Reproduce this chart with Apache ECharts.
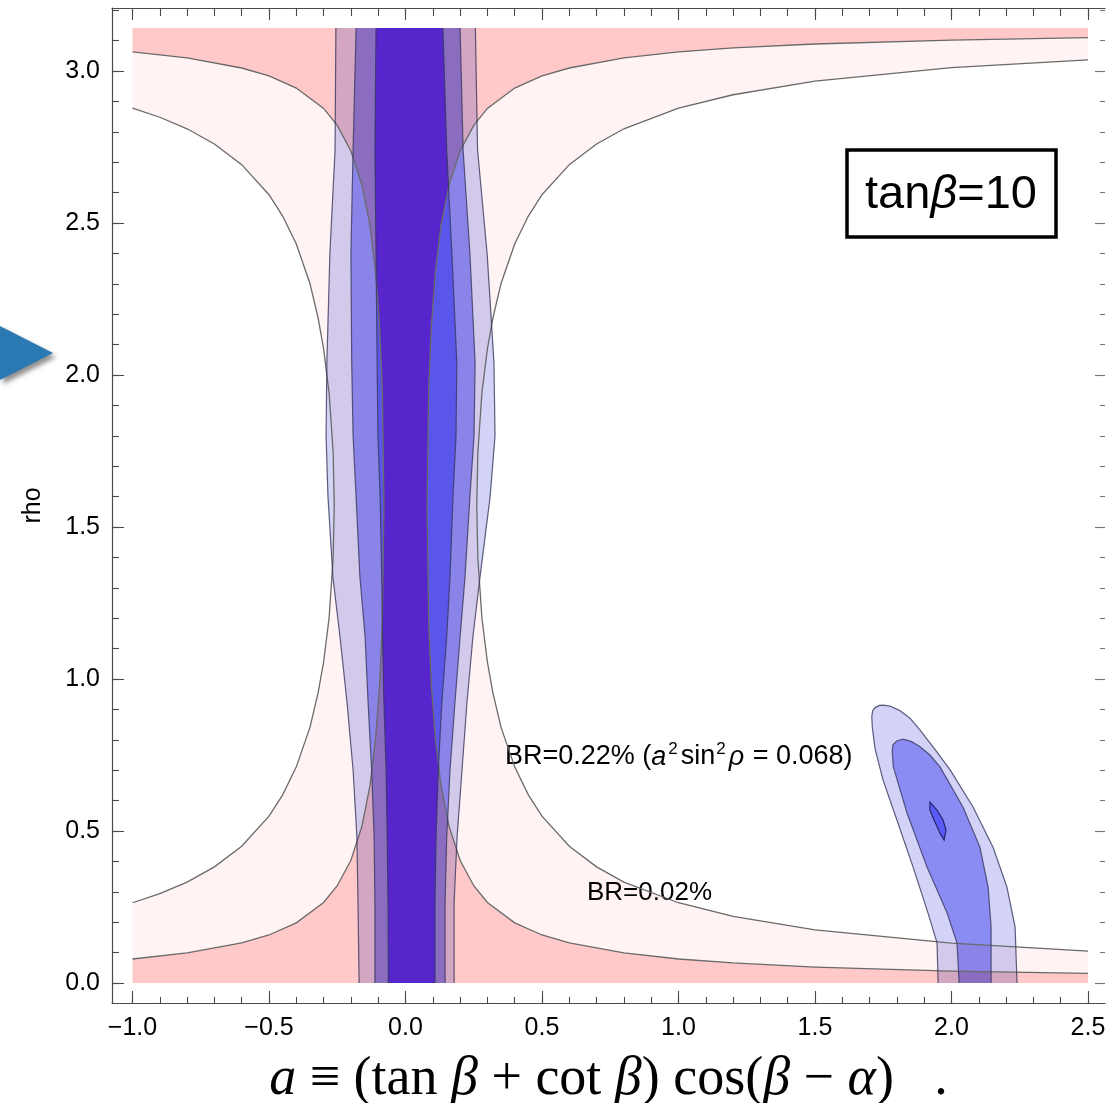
<!DOCTYPE html>
<html><head><meta charset="utf-8">
<script src="https://cdn.jsdelivr.net/npm/echarts@6/dist/echarts.min.js"></script>
<style>html,body{margin:0;padding:0;background:#fff}#c{width:1115px;height:1103px}</style>
</head><body><div id="c"></div>
<script>
// ---------- tick values ----------
const X_MAJOR = [-1.0,-0.5,0.0,0.5,1.0,1.5,2.0,2.5];
const X_MINOR = [-1.0,-0.9,-0.8,-0.7,-0.6,-0.5,-0.4,-0.3,-0.2,-0.1,0.0,0.1,0.2,0.3,0.4,0.5,0.6,0.7,0.8,0.9,1.0,1.1,1.2,1.3,1.4,1.5,1.6,1.7,1.8,1.9,2.0,2.1,2.2,2.3,2.4,2.5];
const Y_MAJOR = [0.0,0.5,1.0,1.5,2.0,2.5,3.0];
const Y_MINOR = [0.0,0.1,0.2,0.3,0.4,0.5,0.6,0.7,0.8,0.9,1.0,1.1,1.2,1.3,1.4,1.5,1.6,1.7,1.8,1.9,2.0,2.1,2.2,2.3,2.4,2.5,2.6,2.7,2.8,2.9,3.0,3.1,3.2];

// ---------- plotted domain ----------
const A_MIN = -1.0, A_MAX = 2.5, RHO_MAX = 3.1416;

// ---------- BR contours [a, rho] ----------
// BR = 0.22%  (a^2 sin^2 rho = 0.068)
const curveA_left = [[-1.0,0.264],[-0.9,0.294],[-0.8,0.332],[-0.7,0.382],[-0.6,0.450],[-0.5,0.549],[-0.45,0.619],[-0.4,0.711],[-0.35,0.841],[-0.32,0.955],[-0.3,1.056],[-0.28,1.200],[-0.265,1.397],[-0.261,1.571],[-0.265,1.745],[-0.28,1.942],[-0.3,2.086],[-0.32,2.187],[-0.35,2.301],[-0.4,2.431],[-0.45,2.523],[-0.5,2.593],[-0.6,2.692],[-0.7,2.760],[-0.8,2.810],[-0.9,2.848],[-1.0,2.878]];
const curveA_right = [[2.5,0.105],[2.0,0.131],[1.5,0.175],[1.2,0.219],[1.0,0.264],[0.8,0.332],[0.7,0.382],[0.6,0.450],[0.5,0.549],[0.45,0.619],[0.4,0.711],[0.35,0.841],[0.32,0.955],[0.3,1.056],[0.28,1.200],[0.265,1.397],[0.261,1.571],[0.265,1.745],[0.28,1.942],[0.3,2.086],[0.32,2.187],[0.35,2.301],[0.4,2.431],[0.45,2.523],[0.5,2.593],[0.6,2.692],[0.7,2.760],[0.8,2.810],[1.0,2.878],[1.2,2.922],[1.5,2.967],[2.0,3.011],[2.5,3.037]];
// BR = 0.02%
const curveB_left = [[-1.0,0.079],[-0.8,0.099],[-0.6,0.132],[-0.5,0.158],[-0.4,0.198],[-0.3,0.265],[-0.25,0.320],[-0.2,0.404],[-0.16,0.514],[-0.13,0.650],[-0.11,0.798],[-0.095,0.977],[-0.085,1.183],[-0.079,1.571],[-0.085,1.959],[-0.095,2.165],[-0.11,2.344],[-0.13,2.492],[-0.16,2.627],[-0.2,2.737],[-0.25,2.821],[-0.3,2.877],[-0.4,2.944],[-0.5,2.984],[-0.6,3.010],[-0.8,3.043],[-1.0,3.063]];
const curveB_right = [[2.5,0.0315],[2.0,0.039],[1.5,0.0525],[1.2,0.066],[1.0,0.079],[0.8,0.099],[0.6,0.132],[0.5,0.158],[0.4,0.198],[0.3,0.265],[0.25,0.320],[0.2,0.404],[0.16,0.514],[0.13,0.650],[0.11,0.798],[0.095,0.977],[0.085,1.183],[0.079,1.571],[0.085,1.959],[0.095,2.165],[0.11,2.344],[0.13,2.492],[0.16,2.627],[0.2,2.737],[0.25,2.821],[0.3,2.877],[0.4,2.944],[0.5,2.984],[0.6,3.010],[0.8,3.043],[1.0,3.063],[1.2,3.076],[1.5,3.089],[2.0,3.102],[2.5,3.110]];

// ---------- central allowed band (three levels), edges at given rho ----------
const bandRho    = [3.1416, 2.74, 2.40, 2.04, 1.80, 1.60, 1.336, 1.139, 0.921, 0.70, 0.481, 0.263, 0.0];
const band1Left  = [-0.255,-0.258,-0.277,-0.288,-0.291,-0.284,-0.266,-0.240,-0.214,-0.192,-0.178,-0.174,-0.170];
const band1Right = [0.256, 0.264, 0.299, 0.324, 0.328, 0.310, 0.273, 0.247, 0.225, 0.207, 0.189, 0.178, 0.178];
const band2Left  = [-0.181,-0.192,-0.200,-0.197,-0.192,-0.181,-0.167,-0.148,-0.137,-0.124,-0.115,-0.112,-0.112];
const band2Right = [0.200, 0.211, 0.236, 0.255, 0.251, 0.236, 0.218, 0.200, 0.181, 0.163, 0.151, 0.145, 0.145];
const band3Left  = [-0.108,-0.112,-0.108,-0.104,-0.101,-0.093,-0.087,-0.084,-0.079,-0.071,-0.067,-0.064,-0.063];
const band3Right = [0.137, 0.151, 0.170, 0.188, 0.185, 0.174, 0.163, 0.151, 0.133, 0.120, 0.112, 0.108, 0.108];

// ---------- right island (three levels) ----------
const blob1 = [[1.951,0],[1.947,0.132],[1.914,0.230],[1.859,0.382],[1.800,0.536],[1.749,0.668],[1.720,0.770],[1.710,0.840],[1.708,0.876],[1.711,0.895],[1.720,0.906],[1.736,0.913],[1.750,0.914],[1.775,0.911],[1.811,0.896],[1.848,0.871],[1.885,0.832],[1.940,0.768],[1.995,0.701],[2.079,0.579],[2.152,0.447],[2.203,0.316],[2.233,0.184],[2.240,0]];
const blob2 = [[2.028,0],[2.020,0.132],[1.984,0.230],[1.910,0.382],[1.837,0.559],[1.787,0.711],[1.783,0.761],[1.785,0.783],[1.799,0.796],[1.823,0.802],[1.854,0.794],[1.885,0.777],[1.921,0.750],[1.958,0.711],[2.042,0.579],[2.104,0.447],[2.134,0.316],[2.145,0.184],[2.145,0]];
const blob3 = [[1.921,0.595],[1.947,0.569],[1.969,0.536],[1.980,0.503],[1.973,0.470],[1.958,0.493],[1.936,0.536],[1.921,0.569]];

// ---------- layout / style ----------
const GRID = {left:112, right:10, top:8, bottom:100, containLabel:false, outerBoundsMode:'none'};
const PX_PER_A = 273, PX_PER_RHO = 304;
const XMIN = A_MIN - 20.5/PX_PER_A, XMAX = A_MAX + 17/PX_PER_A;
const YMIN = -20/PX_PER_RHO, YMAX = RHO_MAX + 20/PX_PER_RHO;
const FONT = 'Liberation Sans, Arial, Helvetica, sans-serif';
const SERIF = 'Liberation Serif, Times New Roman, serif';
const COL = {lav:'#d3d3f7', med:'#8b8bf4', bri:'#5a5af6', indigo:'#5626cc', lp:'#fff3f3', dp:'#ffd3d3',
             line:'#6a6a6a', bline:'rgba(55,55,95,0.8)', axis:'#4a4a4a'};

function bandPoly(L, R){
  const p = [];
  for (let i=0;i<bandRho.length;i++) p.push([L[i], bandRho[i]]);
  for (let i=bandRho.length-1;i>=0;i--) p.push([R[i], bandRho[i]]);
  return p;
}
function edge(E){ return bandRho.map((r,i)=>[E[i], r]); }
const lpPoly = [[A_MIN,0],[A_MAX,0]].concat(curveA_right, [[A_MAX,RHO_MAX],[A_MIN,RHO_MAX]], curveA_left.slice().reverse());
const dpPoly = [[A_MIN,0],[A_MAX,0]].concat(curveB_right, [[A_MAX,RHO_MAX],[A_MIN,RHO_MAX]], curveB_left.slice().reverse());

function px(api, pts){ return pts.map(p=>api.coord(p)); }
function poly(api, pts, style){ return {type:'polygon', shape:{points:px(api,pts)}, style:style}; }
function pline(api, pts, stroke, w){ return {type:'polyline', shape:{points:px(api,pts)}, style:{fill:'none', stroke:stroke, lineWidth:w}}; }
function one(name, opts, make){
  return Object.assign({type:'custom', name:name, silent:true, data:[[0,0]],
    renderItem:(p,api)=>({type:'group', children:make(api)})}, opts);
}

function fmt(v){ return (v<0?'\u2212':'') + Math.abs(v).toFixed(1); }

function xAx(pos, vals, len, line, label){
  return {type:'value', position:pos, min:XMIN, max:XMAX, splitLine:{show:false},
    axisLine:{show:line, onZero:false, lineStyle:{color:COL.axis, width:1.2}},
    axisTick:{show:true, inside:true, length:len, customValues:vals, lineStyle:{color:COL.axis, width:1.1}},
    axisLabel:{show:label, customValues:vals, formatter:fmt, margin:13, fontSize:25, fontFamily:FONT, color:'#000'}};
}
function yAx(pos, vals, len, line, label, col){
  return {type:'value', position:pos, min:YMIN, max:YMAX, splitLine:{show:false},
    axisLine:{show:line, onZero:false, lineStyle:{color:COL.axis, width:1.2}},
    axisTick:{show:true, inside:true, length:len, customValues:vals, lineStyle:{color:col||COL.axis, width:1.1}},
    axisLabel:{show:label, customValues:vals, formatter:fmt, margin:12, fontSize:25, fontFamily:FONT, color:'#000'}};
}

const xa0 = xAx('bottom', X_MAJOR, 12, true, true);
xa0.name = '{i|a}{n| \u2261 (tan }{i|\u03b2}{n| + cot }{i|\u03b2}{n|) cos(}{i|\u03b2}{n| \u2212 }{i|\u03b1}{n|)   .}';
xa0.nameLocation = 'middle';
xa0.nameGap = 50;
xa0.nameTextStyle = {fontFamily:SERIF, fontSize:54, color:'#000',
  rich:{n:{fontFamily:SERIF, fontSize:54, color:'#000'}, i:{fontFamily:SERIF, fontSize:54, fontStyle:'italic', color:'#000'}}};
const ya0 = yAx('left', Y_MAJOR, 12, true, true);
ya0.name = 'rho'; ya0.nameLocation = 'middle'; ya0.nameRotate = 90; ya0.nameGap = 66;
ya0.nameTextStyle = {fontFamily:FONT, fontSize:25, color:'#000'};

const BRS = {fontFamily:FONT, fontSize:27, lineHeight:32, fill:'#000'};
const chart = echarts.init(document.getElementById('c'), null, {renderer:'canvas'});
chart.setOption({
  animation:false,
  backgroundColor:'#ffffff',
  grid:GRID,
  xAxis:[xa0, xAx('bottom', X_MINOR, 6, false, false), xAx('top', X_MAJOR, 12, true, false), xAx('top', X_MINOR, 8, false, false)],
  yAxis:[ya0, yAx('left', Y_MINOR, 7, false, false), yAx('right', Y_MAJOR, 10, false, false, '#777'), yAx('right', Y_MINOR, 5, false, false, '#777')],
  series:[
    one('bands', {z:1}, api=>[
      poly(api, bandPoly(band1Left,band1Right), {fill:COL.lav}),
      poly(api, bandPoly(band2Left,band2Right), {fill:COL.med}),
      poly(api, bandPoly(band3Left,band3Right), {fill:COL.bri}),
      poly(api, blob1, {fill:COL.lav}),
      poly(api, blob2, {fill:COL.med}),
      poly(api, blob3, {fill:COL.bri})
    ]),
    one('BR > 0.22% region', {z:2, blendMode:'multiply'}, api=>[poly(api, lpPoly, {fill:COL.lp})]),
    one('BR > 0.02% region', {z:3, blendMode:'multiply'}, api=>[poly(api, dpPoly, {fill:COL.dp})]),
    one('overlap fill', {zlevel:1, z:1}, api=>[poly(api, bandPoly(band3Left,band3Right), {fill:COL.indigo})]),
    one('overlap mask', {zlevel:1, z:2, blendMode:'destination-in'}, api=>[poly(api, dpPoly, {fill:'#000'})]),
    one('contours', {zlevel:2}, api=>[
      pline(api, curveA_left, COL.line, 1.3), pline(api, curveA_right, COL.line, 1.3),
      pline(api, curveB_left, COL.line, 1.3), pline(api, curveB_right, COL.line, 1.3),
      pline(api, edge(band1Left), COL.bline, 1.2), pline(api, edge(band1Right), COL.bline, 1.2),
      pline(api, edge(band2Left), COL.bline, 1.2), pline(api, edge(band2Right), COL.bline, 1.2),
      pline(api, edge(band3Left), COL.bline, 1.2), pline(api, edge(band3Right), COL.bline, 1.2),
      pline(api, blob1, COL.bline, 1.2), pline(api, blob2, COL.bline, 1.2),
      poly(api, blob3, {fill:'none', stroke:'rgba(30,30,90,0.9)', lineWidth:1.2})
    ])
  ],
  graphic:[
    {type:'polygon', zlevel:2, shape:{points:[[0,326],[53,353],[0,380]]},
     style:{fill:'#2b79b3', shadowBlur:5, shadowOffsetX:3, shadowOffsetY:4, shadowColor:'rgba(0,0,0,0.45)'}},
    {type:'rect', zlevel:2, shape:{x:847, y:150, width:209, height:87}, style:{fill:'#fff', stroke:'#000', lineWidth:3.5}},
    {type:'text', zlevel:2, x:951, y:195, style:{text:'{n|tan}{i|\u03b2}{n|=10}', align:'center', verticalAlign:'middle',
      rich:{n:{fontFamily:FONT, fontSize:47, fill:'#000'}, i:{fontFamily:FONT, fontSize:47, fontStyle:'italic', fill:'#000'}}}},
    {type:'text', zlevel:2, x:505, y:757, style:{text:'{n|BR=0.22% (}{i|a}{s|2}{n|sin}{s|2}{i|\u03c1}{n| = 0.068)}', align:'left', verticalAlign:'middle',
      rich:{n:BRS, i:Object.assign({}, BRS, {fontStyle:'italic', padding:[0,1,0,0]}),
            s:{fontFamily:FONT, fontSize:17, lineHeight:32, verticalAlign:'top', fill:'#000', padding:[0,3,0,1]}}}},
    {type:'text', zlevel:2, x:587, y:893, style:{text:'BR=0.02%', align:'left', verticalAlign:'middle', fontFamily:FONT, fontSize:26, fill:'#000'}}
  ]
});
</script></body></html>
